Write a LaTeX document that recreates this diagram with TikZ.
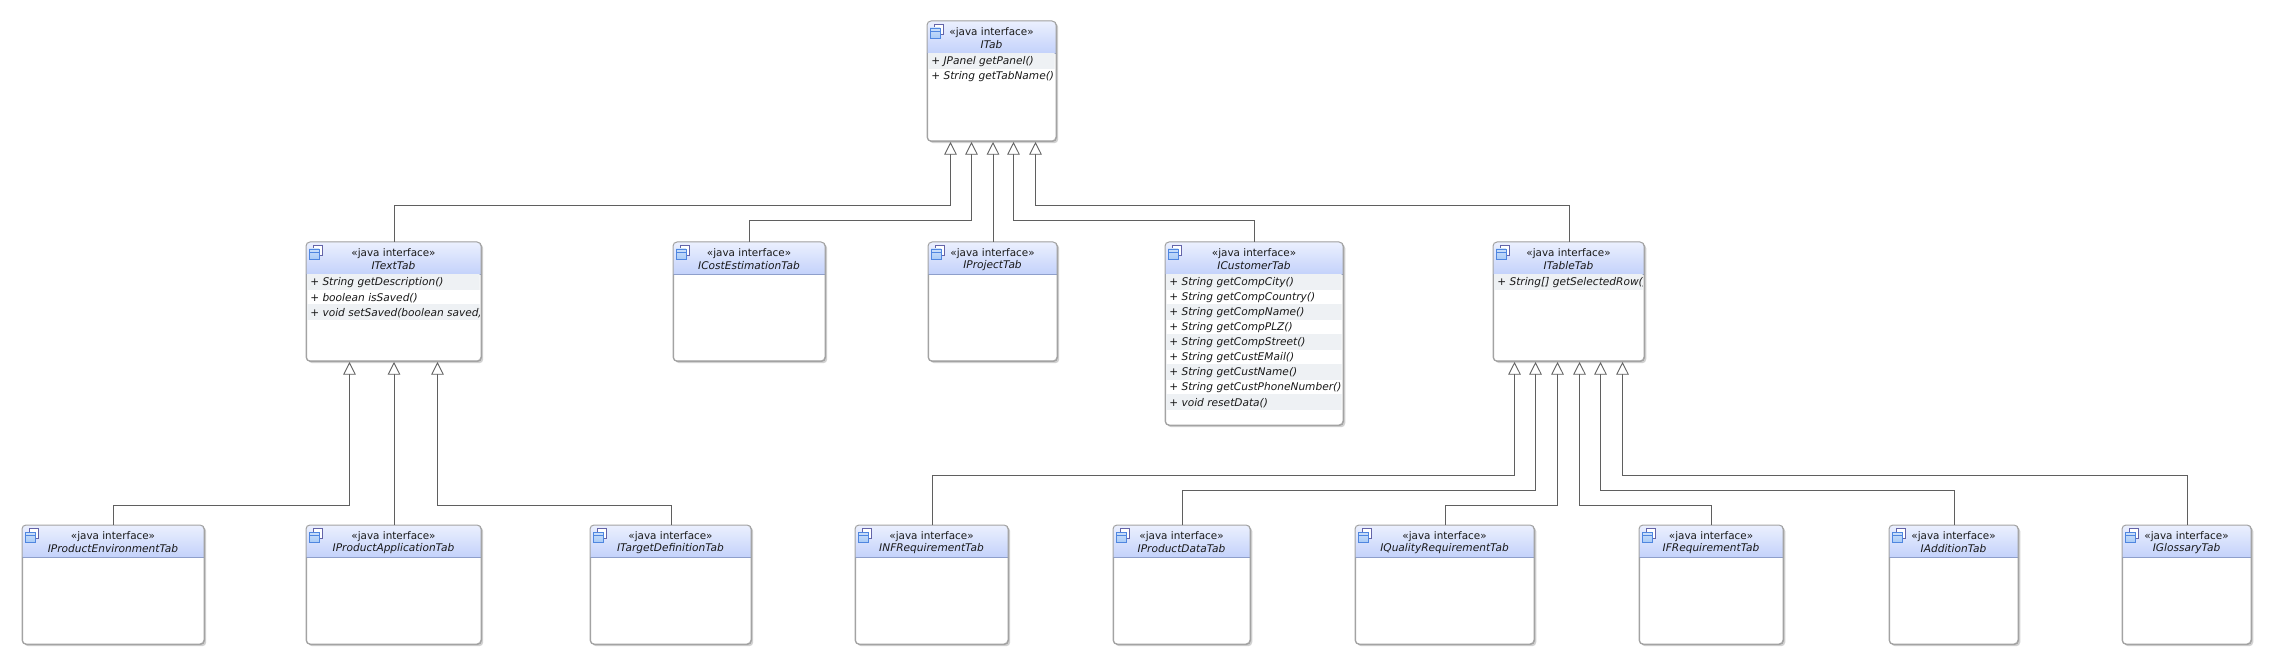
\documentclass[tikz,border=0pt]{standalone}
\usepackage{fontspec}
\setmainfont{DejaVu Sans}
\usetikzlibrary{arrows.meta,calc,shadows}

\definecolor{boxline}{HTML}{A3A3A3}
\definecolor{headtop}{HTML}{EBF0FE}
\definecolor{headbot}{HTML}{C4D2FB}
\definecolor{headline}{HTML}{8E9FCB}
\definecolor{rowband}{HTML}{EEF1F4}
\definecolor{genline}{HTML}{5F5F5F}
\definecolor{iconback}{HTML}{6464A8}
\definecolor{iconfront}{HTML}{4F86E0}
\definecolor{iconfill}{HTML}{A9CBF7}

\tikzset{
  ifacebox/.style={draw=boxline,fill=white,rounded corners=3pt,inner sep=0,anchor=north west,
    line width=.75pt,drop shadow={shadow xshift=1.3pt,shadow yshift=-1.3pt,opacity=.18,fill=black}},
  ifacetext/.style={font=\fontsize{7.8}{9}\selectfont,inner sep=0,text=black!90},
  ifaceital/.style={ifacetext,font=\fontsize{7.95}{9}\selectfont\itshape},
  gen/.style={draw=genline,line width=.65pt,-{Triangle[open,fill=white,length=9.5pt,width=9.5pt]}}
}

% name, left, top, right, bottom, title, methods
\newcommand{\ifacebox}[7]{
  \node (#1) [ifacebox,minimum width={(#4-#2)*.75pt},minimum height={(#5-#3)*.75pt}] at (#2,#3) {};
  \shade[top color=headtop,bottom color=headbot] (#2,#3+32) [rounded corners=3pt] -- (#2,#3) -- (#4,#3) [sharp corners] -- (#4,#3+32) -- cycle;
  \draw[headline,line width=.6pt] (#2,#3+32) -- (#4,#3+32);
  \draw[boxline,line width=.75pt,rounded corners=3pt] (#2,#3) rectangle (#4,#5);
  % window icon
  \draw[fill=white,draw=iconback,line width=.5pt] (#2+7,#3+3) rectangle (#2+16,#3+13);
  \shade[top color=iconfill!60,bottom color=iconfill] (#2+3,#3+7) rectangle (#2+13,#3+17);
  \draw[iconfront,line width=.5pt] (#2+3,#3+7) rectangle (#2+13,#3+17) (#2+3,#3+10) -- (#2+13,#3+10);
  \node (#1-kind) [ifacetext] at ({(#2+#4)/2},#3+11.5) {«java interface»};
  \node (#1-name) [ifaceital] at ({(#2+#4)/2},#3+24) {#6};
  \begin{scope}
    \clip (#2+1,#3+32) rectangle (#4-1.5,#5);
    \foreach \m [count=\i] in {#7} {
      \ifodd\i\relax
        \fill[rowband] (#2+1,{#3+32+15*(\i-1)}) rectangle (#4-1,{#3+48+15*(\i-1)});
      \fi
      \node (#1-m\i) [ifaceital,anchor=west] at (#2+4,{#3+41+15*(\i-1)}) {\m};
    }
  \end{scope}
}

\begin{document}
\begin{tikzpicture}[x=.75pt,y=-.75pt]
    \useasboundingbox (0,0) rectangle (2273,666);

    \ifacebox{ITab}{927}{21}{1056}{141}{ITab}{+ JPanel getPanel(),+ String getTabName()}

    \ifacebox{ITextTab}{306}{242}{481}{361}{ITextTab}{+ String getDescription(),+ boolean isSaved(),+ void setSaved(boolean saved)}
    \ifacebox{ICostEstimationTab}{673}{242}{825}{361}{ICostEstimationTab}{}
    \ifacebox{IProjectTab}{928}{242}{1057}{361}{IProjectTab}{}
    \ifacebox{ICustomerTab}{1165}{242}{1343}{425}{ICustomerTab}{+ String getCompCity(),+ String getCompCountry(),+ String getCompName(),+ String getCompPLZ(),+ String getCompStreet(),+ String getCustEMail(),+ String getCustName(),+ String getCustPhoneNumber(),+ void resetData()}
    \ifacebox{ITableTab}{1493}{242}{1644}{361}{ITableTab}{+ String[] getSelectedRow()}

    \ifacebox{IProductEnvironmentTab}{22}{525}{204}{644}{IProductEnvironmentTab}{}
    \ifacebox{IProductApplicationTab}{306}{525}{481}{644}{IProductApplicationTab}{}
    \ifacebox{ITargetDefinitionTab}{590}{525}{751}{644}{ITargetDefinitionTab}{}
    \ifacebox{INFRequirementTab}{855}{525}{1008}{644}{INFRequirementTab}{}
    \ifacebox{IProductDataTab}{1113}{525}{1250}{644}{IProductDataTab}{}
    \ifacebox{IQualityRequirementTab}{1355}{525}{1534}{644}{IQualityRequirementTab}{}
    \ifacebox{IFRequirementTab}{1639}{525}{1783}{644}{IFRequirementTab}{}
    \ifacebox{IAdditionTab}{1889}{525}{2018}{644}{IAdditionTab}{}
    \ifacebox{IGlossaryTab}{2122}{525}{2251}{644}{IGlossaryTab}{}

    % up to ITab
    \draw[gen] (ITextTab.north) -- (ITextTab.north |- 0,205) -| ($(ITab.south)+(-41.5,0)$);
    \draw[gen] (ICostEstimationTab.north) -- (ICostEstimationTab.north |- 0,220) -| ($(ITab.south)+(-20.5,0)$);
    \draw[gen] (IProjectTab.north) -- (IProjectTab.north |- ITab.south);
    \draw[gen] (ICustomerTab.north) -- (ICustomerTab.north |- 0,220) -| ($(ITab.south)+(21.5,0)$);
    \draw[gen] (ITableTab.north) -- (ITableTab.north |- 0,205) -| ($(ITab.south)+(43.5,0)$);

    % up to ITextTab
    \draw[gen] (IProductEnvironmentTab.north) -- (IProductEnvironmentTab.north |- 0,505) -| ($(ITextTab.south)+(-44.5,0)$);
    \draw[gen] (IProductApplicationTab.north) -- (ITextTab.south);
    \draw[gen] (ITargetDefinitionTab.north) -- (ITargetDefinitionTab.north |- 0,505) -| ($(ITextTab.south)+(43.5,0)$);

    % up to ITableTab
    \draw[gen] (INFRequirementTab.north) -- (INFRequirementTab.north |- 0,475) -| ($(ITableTab.south)+(-54.5,0)$);
    \draw[gen] (IProductDataTab.north) -- (IProductDataTab.north |- 0,490) -| ($(ITableTab.south)+(-33.5,0)$);
    \draw[gen] (IQualityRequirementTab.north) -- (IQualityRequirementTab.north |- 0,505) -| ($(ITableTab.south)+(-11.5,0)$);
    \draw[gen] (IFRequirementTab.north) -- (IFRequirementTab.north |- 0,505) -| ($(ITableTab.south)+(10.5,0)$);
    \draw[gen] (IAdditionTab.north) -- (IAdditionTab.north |- 0,490) -| ($(ITableTab.south)+(31.5,0)$);
    \draw[gen] (IGlossaryTab.north) -- (IGlossaryTab.north |- 0,475) -| ($(ITableTab.south)+(53.5,0)$);

  \end{tikzpicture}
\end{document}
